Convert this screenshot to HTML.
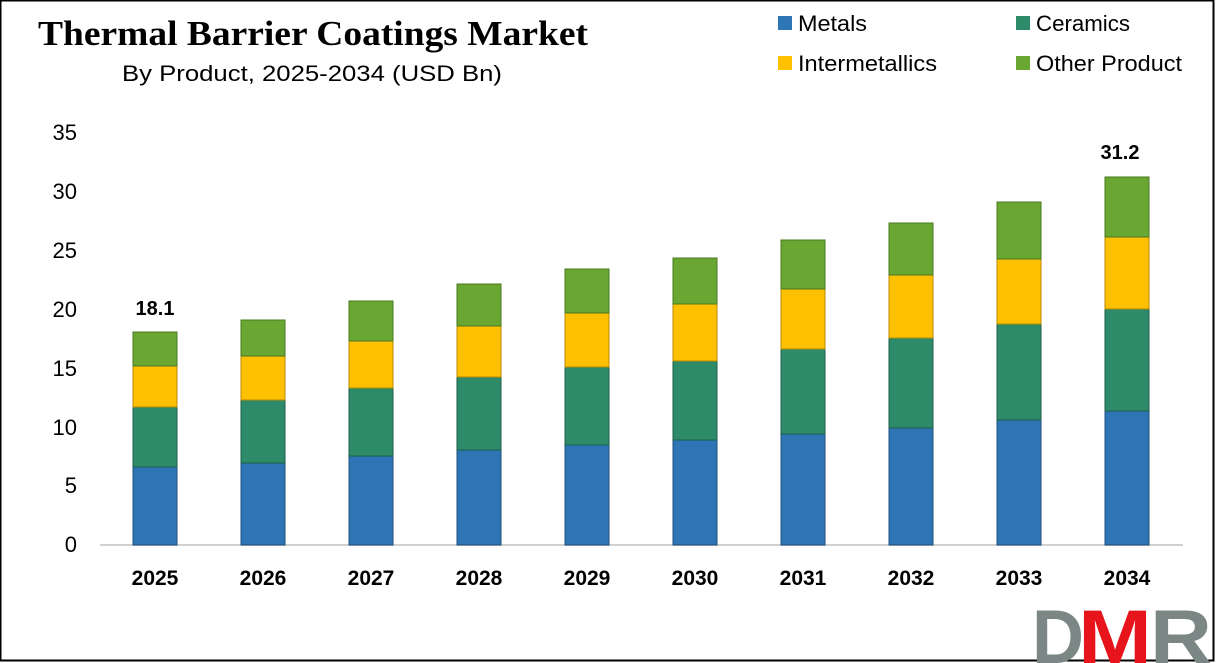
<!DOCTYPE html>
<html><head><meta charset="utf-8"><style>
html,body{margin:0;padding:0;background:#fff}
svg{display:block}
</style></head><body>
<svg width="1216" height="663" xmlns="http://www.w3.org/2000/svg" font-family="Liberation Sans, sans-serif">
<rect x="0.5" y="0.5" width="1213" height="660" fill="#fff" stroke="#000" stroke-width="2"/>
<text x="38" y="45" font-family="Liberation Serif, serif" font-weight="bold" font-size="35" fill="#000" textLength="550" lengthAdjust="spacingAndGlyphs">Thermal Barrier Coatings Market</text>
<text x="122" y="81" font-size="22" fill="#000" textLength="380" lengthAdjust="spacingAndGlyphs">By Product, 2025-2034 (USD Bn)</text>
<g font-size="22" fill="#000">
<rect x="778" y="16" width="14" height="14" fill="#2e75b6"/><text x="798" y="31" textLength="69" lengthAdjust="spacingAndGlyphs">Metals</text>
<rect x="1016" y="16" width="14" height="14" fill="#2e8b6a"/><text x="1036" y="31" textLength="94" lengthAdjust="spacingAndGlyphs">Ceramics</text>
<rect x="778" y="56" width="14" height="14" fill="#ffc000"/><text x="798" y="71" textLength="139" lengthAdjust="spacingAndGlyphs">Intermetallics</text>
<rect x="1016" y="56" width="14" height="14" fill="#6aa632"/><text x="1036" y="71" textLength="146" lengthAdjust="spacingAndGlyphs">Other Product</text>
</g>
<g font-size="22" fill="#000" text-anchor="end">
<text x="77" y="552">0</text><text x="77" y="493">5</text><text x="77" y="435">10</text><text x="77" y="376">15</text><text x="77" y="317">20</text><text x="77" y="258">25</text><text x="77" y="199">30</text><text x="77" y="140">35</text>
</g>
<line x1="100" y1="545" x2="1183" y2="545" stroke="#d0d0d0" stroke-width="2"/>
<g stroke-width="1">
<rect x="133" y="467" width="44" height="78" fill="#2e75b6" stroke="#1f4e79"/><rect x="133" y="407" width="44" height="60" fill="#2e8b6a" stroke="#1e5e48"/><rect x="133" y="366" width="44" height="41" fill="#ffc000" stroke="#b88a00"/><rect x="133" y="332" width="44" height="34" fill="#6aa632" stroke="#4a7a22"/>
<rect x="241" y="463" width="44" height="82" fill="#2e75b6" stroke="#1f4e79"/><rect x="241" y="400" width="44" height="63" fill="#2e8b6a" stroke="#1e5e48"/><rect x="241" y="356" width="44" height="44" fill="#ffc000" stroke="#b88a00"/><rect x="241" y="320" width="44" height="36" fill="#6aa632" stroke="#4a7a22"/>
<rect x="349" y="456" width="44" height="89" fill="#2e75b6" stroke="#1f4e79"/><rect x="349" y="388" width="44" height="68" fill="#2e8b6a" stroke="#1e5e48"/><rect x="349" y="341" width="44" height="47" fill="#ffc000" stroke="#b88a00"/><rect x="349" y="301" width="44" height="40" fill="#6aa632" stroke="#4a7a22"/>
<rect x="457" y="450" width="44" height="95" fill="#2e75b6" stroke="#1f4e79"/><rect x="457" y="377" width="44" height="73" fill="#2e8b6a" stroke="#1e5e48"/><rect x="457" y="326" width="44" height="51" fill="#ffc000" stroke="#b88a00"/><rect x="457" y="284" width="44" height="42" fill="#6aa632" stroke="#4a7a22"/>
<rect x="565" y="445" width="44" height="100" fill="#2e75b6" stroke="#1f4e79"/><rect x="565" y="367" width="44" height="78" fill="#2e8b6a" stroke="#1e5e48"/><rect x="565" y="313" width="44" height="54" fill="#ffc000" stroke="#b88a00"/><rect x="565" y="269" width="44" height="44" fill="#6aa632" stroke="#4a7a22"/>
<rect x="673" y="440" width="44" height="105" fill="#2e75b6" stroke="#1f4e79"/><rect x="673" y="361" width="44" height="79" fill="#2e8b6a" stroke="#1e5e48"/><rect x="673" y="304" width="44" height="57" fill="#ffc000" stroke="#b88a00"/><rect x="673" y="258" width="44" height="46" fill="#6aa632" stroke="#4a7a22"/>
<rect x="781" y="434" width="44" height="111" fill="#2e75b6" stroke="#1f4e79"/><rect x="781" y="349" width="44" height="85" fill="#2e8b6a" stroke="#1e5e48"/><rect x="781" y="289" width="44" height="60" fill="#ffc000" stroke="#b88a00"/><rect x="781" y="240" width="44" height="49" fill="#6aa632" stroke="#4a7a22"/>
<rect x="889" y="428" width="44" height="117" fill="#2e75b6" stroke="#1f4e79"/><rect x="889" y="338" width="44" height="90" fill="#2e8b6a" stroke="#1e5e48"/><rect x="889" y="275" width="44" height="63" fill="#ffc000" stroke="#b88a00"/><rect x="889" y="223" width="44" height="52" fill="#6aa632" stroke="#4a7a22"/>
<rect x="997" y="420" width="44" height="125" fill="#2e75b6" stroke="#1f4e79"/><rect x="997" y="324" width="44" height="96" fill="#2e8b6a" stroke="#1e5e48"/><rect x="997" y="259" width="44" height="65" fill="#ffc000" stroke="#b88a00"/><rect x="997" y="202" width="44" height="57" fill="#6aa632" stroke="#4a7a22"/>
<rect x="1105" y="411" width="44" height="134" fill="#2e75b6" stroke="#1f4e79"/><rect x="1105" y="309" width="44" height="102" fill="#2e8b6a" stroke="#1e5e48"/><rect x="1105" y="237" width="44" height="72" fill="#ffc000" stroke="#b88a00"/><rect x="1105" y="177" width="44" height="60" fill="#6aa632" stroke="#4a7a22"/>
</g>
<text x="155" y="315" font-size="20" font-weight="bold" text-anchor="middle">18.1</text>
<text x="1120" y="159" font-size="20" font-weight="bold" text-anchor="middle">31.2</text>
<g font-size="21" font-weight="bold" text-anchor="middle">
<text x="155" y="585">2025</text><text x="263" y="585">2026</text><text x="371" y="585">2027</text><text x="479" y="585">2028</text><text x="587" y="585">2029</text><text x="695" y="585">2030</text><text x="803" y="585">2031</text><text x="911" y="585">2032</text><text x="1019" y="585">2033</text><text x="1127" y="585">2034</text>
</g>
<g font-weight="bold" font-size="76">
<text x="1032" y="663" fill="#7a8784" textLength="52" lengthAdjust="spacingAndGlyphs">D</text>
<text x="1078" y="663" fill="#e8141b" textLength="74" lengthAdjust="spacingAndGlyphs">M</text>
<text x="1150" y="663" fill="#7a8784" textLength="62" lengthAdjust="spacingAndGlyphs">R</text>
</g>
</svg>
</body></html>
